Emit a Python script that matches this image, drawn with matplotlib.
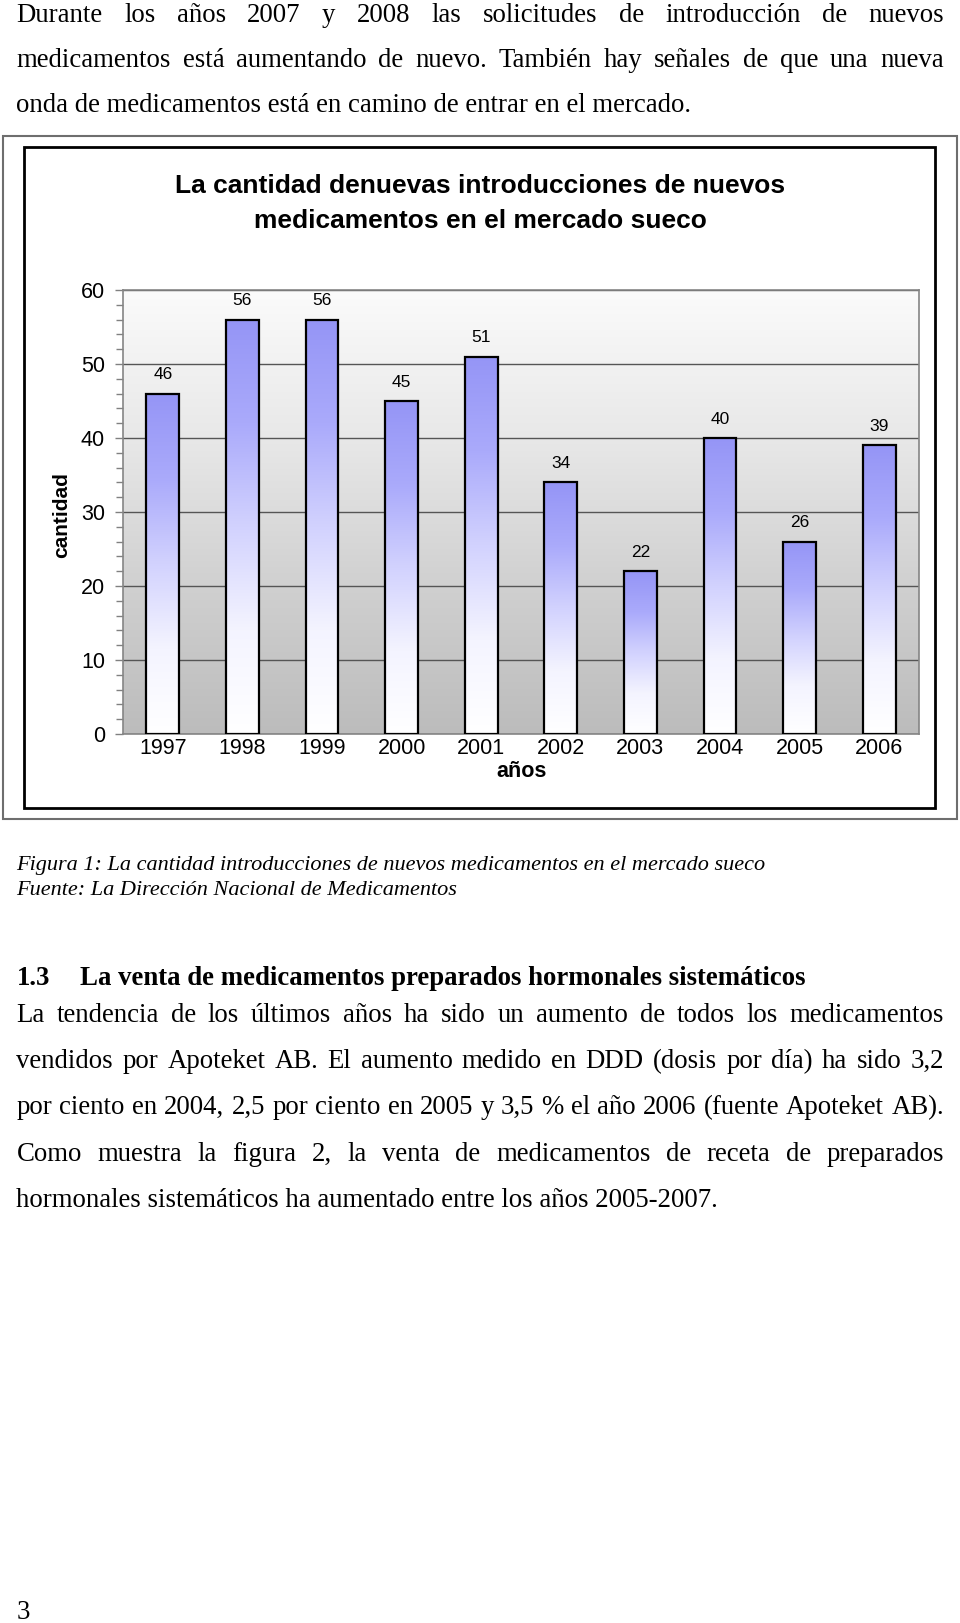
import matplotlib
matplotlib.use('Agg')
import matplotlib.pyplot as plt
import numpy as np
from matplotlib.colors import LinearSegmentedColormap
from matplotlib.patches import Rectangle
from matplotlib.ticker import MultipleLocator

# ---------------- data ----------------
years = ['1997', '1998', '1999', '2000', '2001', '2002', '2003', '2004', '2005', '2006']
counts = [46, 56, 56, 45, 51, 34, 22, 40, 26, 39]
yticks = [0, 10, 20, 30, 40, 50, 60]

title_lines = ['La cantidad denuevas introducciones de nuevos',
               'medicamentos en el mercado sueco']
ylabel = 'cantidad'
xlabel = 'años'

para1 = ['Durante los años 2007 y 2008 las solicitudes de introducción de nuevos',
         'medicamentos está aumentando de nuevo. También hay señales de que una nueva',
         'onda de medicamentos está en camino de entrar en el mercado.']
caption = ['Figura 1: La cantidad introducciones de nuevos medicamentos en el mercado sueco',
           'Fuente: La Dirección Nacional de Medicamentos']
heading_num = '1.3'
heading = 'La venta de medicamentos preparados hormonales sistemáticos'
para2 = ['La tendencia de los últimos años ha sido un aumento de todos los medicamentos',
         'vendidos por Apoteket AB. El aumento medido en DDD (dosis por día) ha sido 3,2',
         'por ciento en 2004, 2,5 por ciento en 2005 y 3,5 % el año 2006 (fuente Apoteket AB).',
         'Como muestra la figura 2, la venta de medicamentos de receta de preparados',
         'hormonales sistemáticos ha aumentado entre los años 2005-2007.']
page_number = '3'

# ---------------- figure ----------------
W, H = 960, 1623
fig = plt.figure(figsize=(W / 100, H / 100), dpi=100)
fig.patch.set_facecolor('white')


def fx(x):
    return x / W


def fy(y):
    return 1 - y / H


SANS = 'Liberation Sans'
SERIF = 'Liberation Serif'

# chart frames
fig.add_artist(Rectangle((fx(3), fy(819)), (957 - 3) / W, (819 - 136) / H,
                         transform=fig.transFigure, fill=False, ec='#6e6e6e', lw=1.5))
fig.add_artist(Rectangle((fx(24), fy(808)), (935 - 24) / W, (808 - 147) / H,
                         transform=fig.transFigure, fill=False, ec='black', lw=2))

ax = fig.add_axes([fx(123), fy(734), (919 - 123) / W, (734 - 290) / H])
xpos = np.arange(len(years))

# background gradient
bgcmap = LinearSegmentedColormap.from_list('bg', ['#bcbcbc', '#d0d0d0', '#e8e8e8', '#fbfbfb'])
bg = np.linspace(0, 1, 256).reshape(-1, 1)
ax.imshow(bg, cmap=bgcmap, extent=[-0.5, len(years) - 0.5, 0, yticks[-1]],
          origin='lower', aspect='auto', zorder=0)

bars = ax.bar(xpos, counts, width=0.41, facecolor='none', edgecolor='black',
              linewidth=1.6, zorder=3)
barcmap = LinearSegmentedColormap.from_list(
    'bar', [(0, '#ffffff'), (0.25, '#f4f4ff'), (0.5, '#d2d2fe'), (0.75, '#aaaafb'), (1, '#9595f6')])
grad = np.linspace(0, 1, 256).reshape(-1, 1)
for b in bars:
    im = ax.imshow(grad, cmap=barcmap,
                   extent=[b.get_x(), b.get_x() + b.get_width(), 0, b.get_height()],
                   origin='lower', aspect='auto', zorder=2.5)
    im.set_clip_path(b)

ax.bar_label(bars, labels=[str(c) for c in counts], padding=8, fontsize=12.5,
             fontfamily=SANS, color='black')

ax.set_xlim(-0.5, len(years) - 0.5)
ax.set_ylim(yticks[0], yticks[-1])
ax.set_xticks(xpos)
ax.set_xticklabels(years, fontfamily=SANS, fontsize=15.5)
ax.set_yticks(yticks)
ax.set_yticklabels([str(v) for v in yticks], fontfamily=SANS, fontsize=15.5)
ax.yaxis.set_minor_locator(MultipleLocator(2))
ax.tick_params(axis='x', length=0, pad=3)
ax.tick_params(axis='y', which='major', length=6, color='#808080', pad=7, width=1)
ax.tick_params(axis='y', which='minor', length=5, color='#808080', width=1)
ax.set_axisbelow(True)
ax.yaxis.grid(True, which='major', color='#555555', linewidth=1)
for s in ax.spines.values():
    s.set_color('#858585')
    s.set_linewidth(1.2)

# chart texts
fig.text(fx(480), fy(193), title_lines[0], ha='center', va='baseline',
         fontsize=19, fontweight='bold', fontfamily=SANS)
fig.text(fx(480), fy(228), title_lines[1], ha='center', va='baseline',
         fontsize=19, fontweight='bold', fontfamily=SANS)
fig.text(fx(62), fy(515), ylabel, rotation=90, ha='center', va='center',
         fontsize=15, fontweight='bold', fontfamily=SANS)
fig.text(fx(522), fy(777), xlabel, ha='center', va='baseline',
         fontsize=15.5, fontweight='bold', fontfamily=SANS)

# ---------------- page text ----------------
renderer = fig.canvas.get_renderer()


def twidth(s, **kw):
    t = fig.text(0, 0, s, **kw)
    w = t.get_window_extent(renderer).width
    t.remove()
    return w


def fit(s, target, **kw):
    return 10 * target / twidth(s, fontsize=10, **kw)


def line(s, x0, y, x1=None, **kw):
    if x1 is None:
        fig.text(fx(x0), fy(y), s, ha='left', va='baseline', **kw)
        return
    words = s.split(' ')
    ws = [twidth(w_, **kw) for w_ in words]
    gap = (x1 - x0 - sum(ws)) / (len(words) - 1)
    x = x0
    for w_, wd in zip(words, ws):
        fig.text(fx(x), fy(y), w_, ha='left', va='baseline', **kw)
        x += wd + gap


LM, RM = 16.5, 944
body_size = 0.5 * (fit(para1[2], 693 - LM, fontfamily=SERIF) +
                   fit(para2[4], 716 - LM, fontfamily=SERIF))
bkw = dict(fontfamily=SERIF, fontsize=body_size, color='black')

for i, (s, y) in enumerate(zip(para1, [21.7, 66.7, 111.7])):
    line(s, LM, y, RM if i < 2 else None, **bkw)

cap_size = fit(caption[0], 770 - LM, fontfamily=SERIF, style='italic')
ckw = dict(fontfamily=SERIF, fontsize=cap_size, style='italic', color='black')
line(caption[0], LM, 870, **ckw)
line(caption[1], LM, 895, **ckw)

head_size = fit(heading, 807 - 80, fontfamily=SERIF, fontweight='bold')
hkw = dict(fontfamily=SERIF, fontsize=head_size, fontweight='bold', color='black')
line(heading_num, LM, 985, **hkw)
line(heading, 80, 985, **hkw)

for i, (s, y) in enumerate(zip(para2, [1022.3, 1068.3, 1113.8, 1161.2, 1206.7])):
    line(s, LM, y, RM if i < 4 else None, **bkw)

fig.text(fx(17), fy(1619), page_number, ha='left', va='baseline', **bkw)

fig.savefig('out.png', dpi=100, facecolor='white')
